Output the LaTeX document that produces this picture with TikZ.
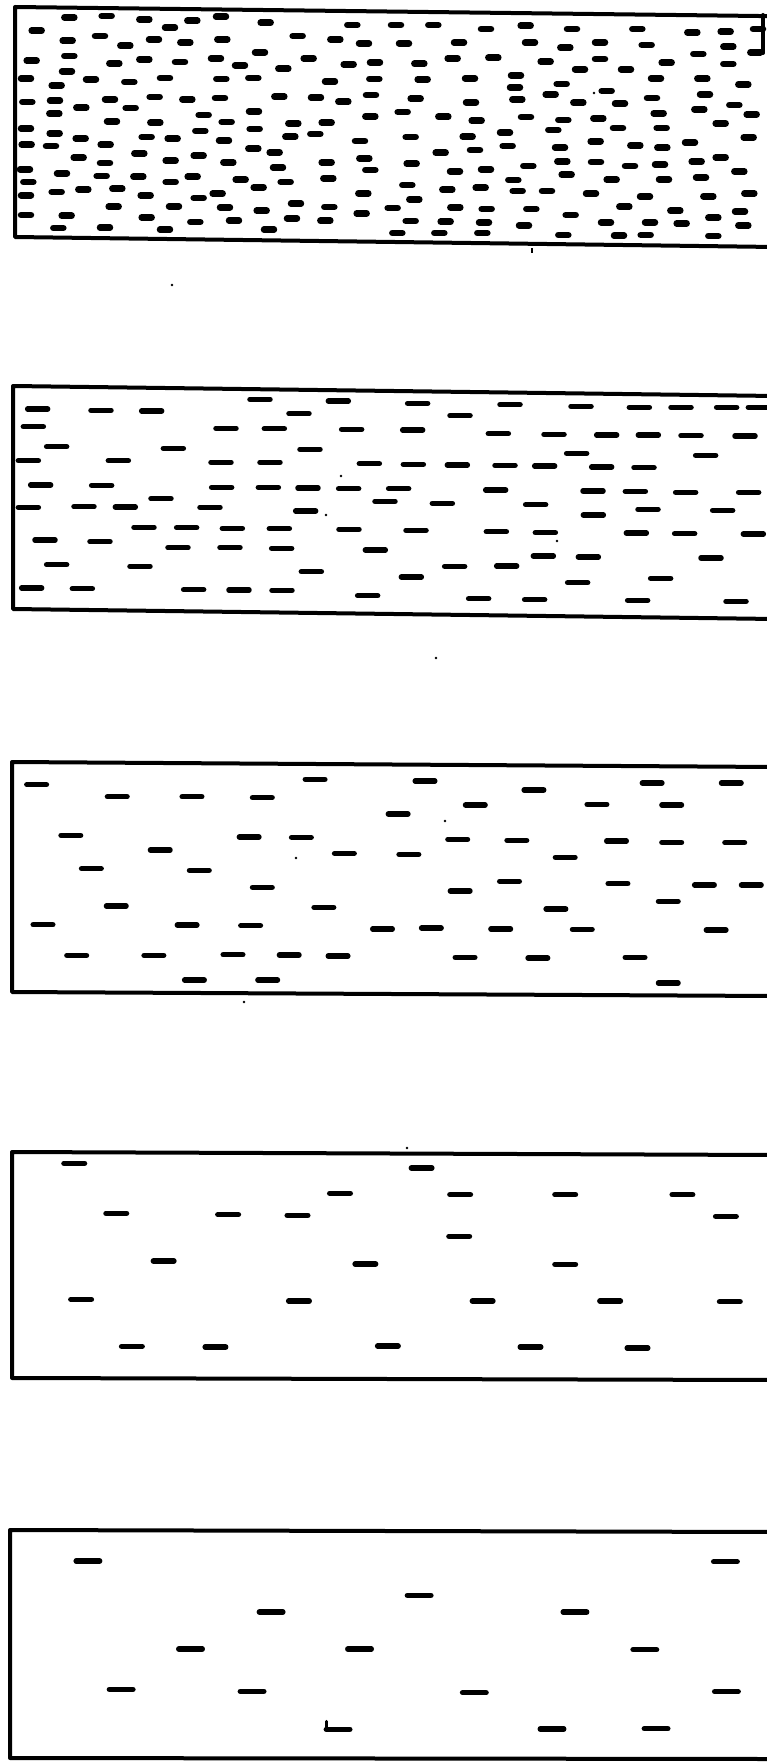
\documentclass[tikz,border=0pt]{standalone}
\begin{document}
\begin{tikzpicture}[x=1pt,y=-1pt,
  frame/.style={line width=4pt, line join=round, line cap=round},
  dshA/.style={line width=6.5pt, line cap=round},
  dshB/.style={line width=5.5pt, line cap=round},
  dshC/.style={line width=5.5pt, line cap=round},
  speck/.style={fill=black}]
\useasboundingbox (0,0) rectangle (766,1763);
\fill[white] (0,0) rectangle (766,1763);

% ---------- frames ----------
\draw[frame] (775,16.2) -- (15,7) -- (15,237) -- (775,247);
\draw[frame] (763,15) -- (763,53);
\draw[frame] (775,396) -- (13,386) -- (13,609) -- (775,619);
\draw[frame] (775,767) -- (12,762) -- (12,992) -- (775,996);
\draw[frame] (775,1155) -- (12,1152) -- (12,1378) -- (775,1380);
\draw[frame] (775,1532) -- (10,1530) -- (10,1758) -- (775,1759);

% ---------- panel 1 ----------
\begin{scope}[xscale=1/3,yscale=1/3]
\foreach \x/\y in {208/52, 320/48, 433/58, 510/83, 577/62, 663/50, 797/68, 1057/75,
110/92, 203/122, 300/108, 376/137, 462/118, 556/127, 667/118, 893/108, 1006/118, 1092/130,
95/182, 208/168, 343/190, 433/178, 540/186, 648/175, 720/196, 780/157, 850/206, 926/175, 1046/193, 1125/187,
201/214, 78/236, 170/256, 273/238, 388/246, 495/234, 664/237, 760/234, 990/245, 1123/237,
82/306, 165/302, 244/323, 330/298, 392/324, 464/291, 562/298, 660/294, 838/290, 948/293, 1030/305, 1113/285,
163/341, 336/364, 466/368, 611/345, 680/366, 762/334, 880/370, 980/368, 1111/349,
78/386, 164/400, 242/415, 317/434, 440/411, 518/416, 601/393, 672/422, 764/387, 871/410, 946/402, 1080/423,
80/434, 153/438, 236/473, 315/489, 418/460, 512/482, 596/467, 685/487, 760/446, 824/457, 980/487, 1093/475,
75/508, 186/520, 305/528, 415/530, 512/546, 578/530, 722/539, 776/562, 834/503, 857/546, 985/535, 1111/510,
85/546, 170/576, 250/568, 352/566, 437/586, 596/594, 653/581, 675/622, 785/632, 888/611, 988/621, 1090/580,
78/586, 341/620, 522/619, 1085/640,
78/645, 200/647, 440/652, 586/666, 702/662, 876/655, 976/662,
175/684, 315/683, 495/689, 807/689}
  \draw[dshA] (\x,\y) ++(-15,0) -- ++(30,0);
\end{scope}
\begin{scope}[shift={(380,0)},xscale=1/3,yscale=1/3]
\foreach \x/\y in {48/75, 160/75, 318/87, 437/77, 576/87, 772/87, 937/97, 1037/95, 1134/87,
72/130, 237/128, 450/128, 556/143, 660/127, 800/135, 955/162, 1045/140, 1126/157,
118/191, 218/175, 340/173, 497/185, 660/177, 600/208, 738/208, 860/188, 1045/192,
128/238, 270/235, 408/226, 405/262, 545/252, 512/283, 680/273, 828/235, 967/236, 1090/253,
107/296, 273/307, 412/298, 595/308, 720/311, 816/294, 975/283, 1063/315,
68/336, 190/350, 290/362, 438/351, 550/360, 655/355, 836/340, 958/328, 1115/343,
92/411, 263/410, 375/398, 520/390, 714/384, 845/384, 1022/370, 1106/412,
182/458, 285/450, 383/438, 540/443, 647/424, 766/436, 847/443, 930/428,
95/491, 225/514, 318/508, 445/498, 547/484, 648/486, 750/498, 840/494, 950/485, 1022/472, 1078/514,
82/555, 202/569, 302/563, 400/540, 560/524, 695/539, 852/538, 963/532,
103/598, 38/624, 226/622, 320/627, 413/573, 501/573, 633/581, 795/590, 733/620, 985/589, 1108/580,
454/627, 572/645, 886/632, 1080/635,
92/663, 197/665, 312/667, 432/676, 678/667, 810/667, 905/670, 1000/653, 1090/676,
52/699, 178/699, 307/699, 550/705, 717/707, 797/705, 1000/708}
  \draw[dshA] (\x,\y) ++(-15,0) -- ++(30,0);
\end{scope}

% ---------- panel 2 ----------
\begin{scope}[shift={(0,370)},xscale=1/3,yscale=1/3]
\foreach \x/\y in {113/117, 303/121, 455/123, 780/88, 1015/93, 897/131,
100/170, 678/175, 823/176, 1055/178,
170/230, 520/235, 930/238,
85/272, 355/272, 663/277, 810/277, 1108/281,
122/345, 305/346, 665/352, 805/352, 924/354, 1046/356,
483/386, 1155/394,
85/412, 252/410, 376/411, 630/412, 917/423,
432/472, 560/473, 697/475, 838/476, 1047/478,
135/510, 300/515, 534/533, 690/533, 845/535, 1126/540,
170/584, 420/589, 934/605,
95/654, 247/656, 581/659, 717/660, 846/661, 1103/677}
  \draw[dshB] (\x,\y) ++(-30,0) -- ++(60,0);
\end{scope}
\begin{scope}[shift={(380,370)},xscale=1/3,yscale=1/3]
\foreach \x/\y in {113/100, 390/104, 603/109, 778/112, 903/112, 1040/112, 1135/112,
240/137,
98/180, 355/191, 522/193, 680/195, 805/195, 933/197, 1095/198,
590/250, 977/256,
100/283, 232/285, 375/286, 494/288, 665/291, 792/293,
56/356, 347/360, 639/363, 766/364, 917/367, 1106/367,
187/400, 467/404, 640/435, 804/418, 1028/421,
108/481, 349/485, 496/488, 769/489, 914/491, 1120/492,
490/558, 625/561, 993/564,
224/589, 380/588,
94/621, 593/638, 842/625,
296/686, 464/689, 773/691, 1068/694}
  \draw[dshB] (\x,\y) ++(-30,0) -- ++(60,0);
\end{scope}

% ---------- panel 3 ----------
\begin{scope}[shift={(0,750)},xscale=1/2.047,yscale=1/3]
\foreach \x/\y in {75/104, 240/140, 393/140, 537/143, 645/88, 870/93, 1093/120, 1335/99, 1497/99,
973/165, 1222/163, 1375/165, 815/192,
145/256, 510/261, 617/262, 937/268, 1058/271, 1262/273, 1375/277, 1504/278,
328/300, 705/310, 837/313, 1157/322,
187/356, 408/361,
537/412, 942/423, 1043/394, 1265/401, 1442/405, 1538/405,
238/468, 663/472, 1138/477, 1368/454,
88/524, 383/525, 513/527, 783/537, 883/534, 1025/537, 1192/538, 1466/540,
157/616, 315/616, 477/614, 592/615, 692/618, 952/622, 1101/624, 1300/622,
398/690, 548/690, 1368/699}
  \draw[dshC] (\x,\y) ++(-20,0) -- ++(40,0);
\end{scope}

% ---------- panel 4 ----------
\begin{scope}[shift={(0,1140)},xscale=1/2.047,yscale=1/3]
\foreach \x/\y in {152/70, 863/84, 696/160, 942/164, 1157/164, 1397/164,
238/220, 467/224, 609/226, 1486/229, 940/289,
335/363, 748/372, 1157/373,
166/478, 612/483, 988/483, 1249/483, 1494/485,
270/619, 441/621, 794/618, 1086/621, 1305/624}
  \draw[dshC] (\x,\y) ++(-21,0) -- ++(42,0);
\end{scope}

% ---------- panel 5 ----------
\begin{scope}[shift={(0,1520)},xscale=1/2.047,yscale=1/3]
\foreach \x/\y in {180/123, 1485/125, 858/226, 555/276, 1177/276,
390/387, 736/387, 1320/389,
248/508, 516/514, 971/518, 1487/515,
692/628, 1130/627, 1343/626}
  \draw[dshC] (\x,\y) ++(-24,0) -- ++(48,0);
\draw[line width=3pt, line cap=round] (668,604) -- (668,626);
\end{scope}

% ---------- specks ----------
\foreach \x/\y in {594/93, 557/541, 341/476, 326/515, 445/821, 296/858, 244/1002, 407/1148, 172/285, 436/658}
  \fill[speck] (\x,\y) circle (1.4pt);
\draw[line width=1.5pt] (532,248) -- (532,253);
\end{tikzpicture}
\end{document}
